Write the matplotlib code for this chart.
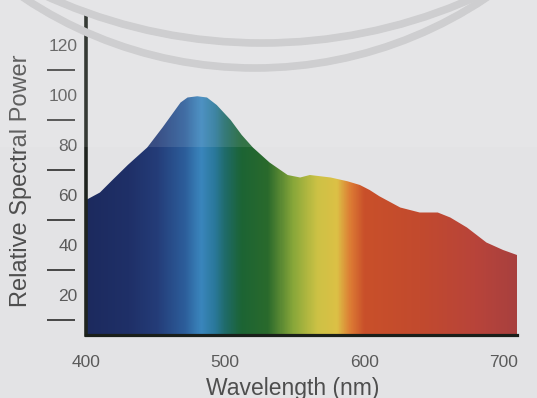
import numpy as np
import matplotlib
matplotlib.use("Agg")
import matplotlib.pyplot as plt
from matplotlib.colors import LinearSegmentedColormap, Normalize
from matplotlib.patches import Arc, Rectangle
from matplotlib.transforms import IdentityTransform

# ---- data ----
wavelength = [400, 410, 419, 430, 444, 455, 468, 473, 480, 487, 494, 499, 504, 512,
              520, 532, 545, 554, 561, 576, 588, 597, 604, 611, 626, 640, 653, 662,
              674, 688, 700, 710]
power = [58, 61, 66, 72, 79, 87, 97, 99, 99.5, 99, 96, 93, 90, 84,
         79, 73, 68, 67, 68, 67, 65.5, 64, 62, 59.5, 55, 53, 53, 51,
         47, 41, 38, 36]
x_ticks = [400, 500, 600, 700]
y_ticks = [20, 40, 60, 80, 100, 120]
y_tick_marks = [10, 30, 50, 70, 90, 110]

# spectrum colour stops (wavelength, colour)
spec_nm = [399, 430, 450, 470, 482, 492, 500, 511, 530, 549, 566, 580, 590, 600, 640, 680, 711]
spec_col = ["#1c2a5e", "#1f3068", "#243c78", "#2c5d9a", "#3a86bd", "#2a789a", "#1f6a66",
            "#1c6434", "#2a6a2c", "#8aa83a", "#cdc245", "#dcc046", "#dc7a34", "#c9502a",
            "#c24a2e", "#b8443a", "#a8403f"]

W, H = 537, 398
fig = plt.figure(figsize=(W / 100, H / 100), dpi=100)
bg = "#e3e3e5"
fig.patch.set_facecolor(bg)

left_px, right_px, top_px, bot_px = 85.5, 517, 15, 335
ax = fig.add_axes([left_px / W, (H - bot_px) / H, (right_px - left_px) / W, (bot_px - top_px) / H])
ax.set_facecolor(bg)
x0, x1, y0, y1 = 399.6, 710, 4, 132
ax.set_xlim(x0, x1)
ax.set_ylim(y0, y1)

# gradient fill under curve
norm = Normalize(x0, x1)
pos = [(v - x0) / (x1 - x0) for v in spec_nm]
pos = [min(max(p, 0), 1) for p in pos]
pos[0], pos[-1] = 0.0, 1.0
cmap = LinearSegmentedColormap.from_list("spec", list(zip(pos, spec_col)))
grad = np.linspace(x0, x1, 800).reshape(1, -1)
poly = ax.fill_between(wavelength, power, y0, facecolor="none", edgecolor="none")
im = ax.imshow(grad, extent=[x0, x1, y0, y1], aspect="auto", cmap=cmap, norm=norm,
               origin="lower", interpolation="bilinear", zorder=1)
path = poly.get_paths()[0]
im.set_clip_path(path, transform=ax.transData)

# spines
for s in ["top", "right"]:
    ax.spines[s].set_visible(False)
ax.spines["left"].set_linewidth(2.6)
ax.spines["left"].set_color("#1f241f")
ax.spines["bottom"].set_linewidth(2.3)
ax.spines["bottom"].set_color("#1a1f1a")
ax.spines["left"].set_zorder(5)
ax.spines["bottom"].set_zorder(5)

# ticks
ax.set_xticks(x_ticks)
ax.set_xticklabels([str(v) for v in x_ticks])
ax.set_yticks(y_ticks)
ax.set_yticklabels([str(v) for v in y_ticks])
ax.tick_params(axis="both", length=0, labelsize=12.5, labelcolor="#5a5a5a")
ax.tick_params(axis="x", pad=14.5)
ax.tick_params(axis="y", pad=5.8)
for lab in ax.get_xticklabels() + ax.get_yticklabels():
    lab.set_fontfamily("Liberation Sans")

# detached y tick marks
axw = right_px - left_px
tr = ax.get_yaxis_transform()
for v in y_tick_marks:
    ax.plot([(47 - left_px) / axw, (75 - left_px) / axw], [v, v], color="#3a3a3a",
            lw=1.3, transform=tr, clip_on=False, solid_capstyle="butt")

ax.set_xlabel("Wavelength (nm)", fontsize=16.5, color="#4e4e4e", family="Liberation Sans")
ax.xaxis.set_label_coords((293 - left_px) / axw, (bot_px - 388) / (bot_px - top_px))
ax.xaxis.label.set_va("center")
ax.set_ylabel("Relative Spectral Power", fontsize=17, color="#4e4e4e", family="Liberation Sans")
ax.yaxis.set_label_coords((21 - left_px) / axw, (bot_px - 181) / (bot_px - top_px))
ax.yaxis.label.set_va("center")

# watermark arcs (pixel coords, y up)
arc1 = Arc((255, H + 348), 2 * 416, 2 * 416, theta1=180, theta2=360,
           transform=IdentityTransform(), color="#c9c9cb", lw=5.5, zorder=0)
arc2 = Arc((262, H + 477), 2 * 520, 2 * 520, theta1=180, theta2=360,
           transform=IdentityTransform(), color="#c9c9cb", lw=5.5, zorder=0)
fig.patches.extend([arc1, arc2])

# lighter top band (scan artifact)
band = Rectangle((0, (H - 147) / H), 1, 147 / H, transform=fig.transFigure,
                 facecolor="white", alpha=0.1, edgecolor="none", zorder=10)
fig.patches.append(band)

fig.savefig("out.png", dpi=100, facecolor=fig.get_facecolor())
